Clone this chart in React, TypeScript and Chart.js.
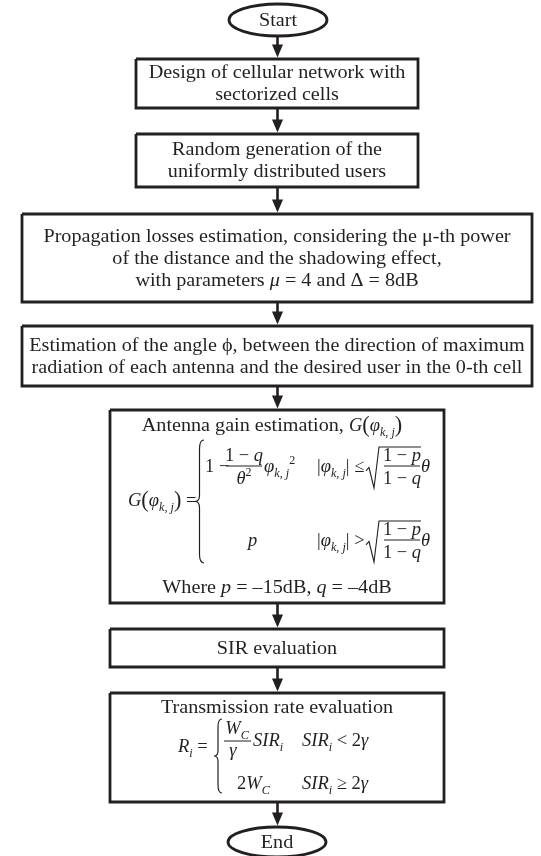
import React, { useEffect, useRef } from "react";
import { Chart, registerables } from "chart.js";
Chart.register(...registerables);

const W = 541;
const H = 856;
const INK = "#231f20";
const SERIF = '"Liberation Serif", "Times New Roman", serif';
const TEXT_SIZE = 18;
const TEXT_SX = 1.12; // horizontal stretch to mimic the book-face width
const MATH = 18.5;

// ---- flowchart content (top to bottom) ----
const stepKinds = ["terminal", "process", "process", "process", "process", "process", "process", "process", "terminal"];
const stepLines: string[][] = [
  ["Start"],
  ["Design of cellular network with", "sectorized cells"],
  ["Random generation of the", "uniformly distributed users"],
  [
    "Propagation losses estimation, considering the \u03bc-th power",
    "of the distance and the shadowing effect,",
    "with parameters |\u03bc| = 4 and \u0394 = 8dB",
  ],
  [
    "Estimation of the angle \u03d5, between the direction of maximum",
    "radiation of each antenna and the desired user in the 0-th cell",
  ],
  ["Antenna gain estimation,"],
  ["SIR evaluation"],
  ["Transmission rate evaluation"],
  ["End"],
];
const gainNote = "Where |p| = \u201315dB, |q| = \u20134dB";

// ---- layout of the steps (chart units) ----
const stepLeft = [229, 136, 136, 22, 22, 110, 110, 110, 228];
const stepRight = [327, 418, 418, 532, 532, 444, 444, 444, 326];
const stepTop = [4, 59, 134, 214, 326, 410, 629, 693, 827];
const stepBottom = [36, 108, 187, 302, 386, 603, 667, 802, 857];
const ARROW_X = 277.5;
const LINE_GAP = 22;

type Seg = { t: string; i?: boolean; s?: "sub" | "sup"; size?: number };

function fnt(size: number, italic?: boolean) {
  return `${italic ? "italic " : ""}${size}px ${SERIF}`;
}

function segSize(seg: Seg, size: number) {
  return seg.size ? seg.size : seg.s ? size * 0.66 : size;
}

function segsWidth(ctx: CanvasRenderingContext2D, segs: Seg[], size: number, sx = 1) {
  let w = 0;
  for (const s of segs) {
    ctx.font = fnt(segSize(s, size), s.i);
    w += ctx.measureText(s.t).width * sx;
  }
  return w;
}

function drawSegs(
  ctx: CanvasRenderingContext2D,
  segs: Seg[],
  x: number,
  y: number,
  size: number,
  align: "left" | "center" = "left",
  sx = 1
) {
  const total = segsWidth(ctx, segs, size, sx);
  let cx = align === "center" ? x - total / 2 : x;
  ctx.textBaseline = "alphabetic";
  ctx.textAlign = "left";
  for (const s of segs) {
    const sz = segSize(s, size);
    ctx.font = fnt(sz, s.i);
    const dy = s.s === "sub" ? size * 0.28 : s.s === "sup" ? -size * 0.42 : 0;
    ctx.save();
    ctx.translate(cx, y + dy);
    ctx.scale(sx, 1);
    ctx.fillText(s.t, 0, 0);
    ctx.restore();
    cx += ctx.measureText(s.t).width * sx;
  }
  return total;
}

// "a |b| c" -> italic parts between bars
function parseRich(line: string): Seg[] {
  return line
    .split("|")
    .map((p, k) => ({ t: p, i: k % 2 === 1 }))
    .filter((s) => s.t.length > 0);
}

function brace(ctx: CanvasRenderingContext2D, x: number, top: number, bot: number, w: number) {
  const mid = (top + bot) / 2;
  const xr = x + w;
  const xm = x + w * 0.5;
  ctx.beginPath();
  ctx.moveTo(xr, top);
  ctx.quadraticCurveTo(xm, top, xm, top + w);
  ctx.lineTo(xm, mid - w * 0.7);
  ctx.quadraticCurveTo(xm, mid, x, mid);
  ctx.quadraticCurveTo(xm, mid, xm, mid + w * 0.7);
  ctx.lineTo(xm, bot - w);
  ctx.quadraticCurveTo(xm, bot, xr, bot);
  ctx.stroke();
}

function sqrtSign(ctx: CanvasRenderingContext2D, x: number, top: number, bot: number, end: number) {
  const h = bot - top;
  ctx.beginPath();
  ctx.moveTo(x, bot - h * 0.42);
  ctx.lineTo(x + 3, bot - h * 0.5);
  ctx.lineTo(x + 8, bot);
  ctx.lineTo(x + 13, top);
  ctx.lineTo(end, top);
  ctx.stroke();
}

function hline(ctx: CanvasRenderingContext2D, x1: number, x2: number, y: number) {
  ctx.beginPath();
  ctx.moveTo(x1, y);
  ctx.lineTo(x2, y);
  ctx.stroke();
}

function phiArg(ctx: CanvasRenderingContext2D, x: number, by: number, size: number, parens: boolean) {
  let cx = x;
  if (parens) {
    ctx.font = fnt(size * 1.2);
    ctx.fillText("(", cx, by + 1);
    cx += ctx.measureText("(").width;
  }
  cx += drawSegs(ctx, [{ t: "\u03c6", i: true }, { t: "k, j", i: true, s: "sub" }], cx, by, size);
  if (parens) {
    ctx.font = fnt(size * 1.2);
    ctx.fillText(")", cx, by + 1);
    cx += ctx.measureText(")").width;
  }
  return cx - x;
}

const flowPlugin = {
  id: "flowText",
  beforeDraw(chart: any) {
    const ctx = chart.ctx as CanvasRenderingContext2D;
    ctx.save();
    ctx.fillStyle = "#ffffff";
    ctx.fillRect(0, 0, chart.width, chart.height);
    ctx.restore();
  },
  afterDatasetsDraw(chart: any) {
    const ctx = chart.ctx as CanvasRenderingContext2D;
    const X = (v: number) => chart.scales.x.getPixelForValue(v);
    const Y = (v: number) => chart.scales.y.getPixelForValue(v);
    ctx.save();
    ctx.fillStyle = INK;
    ctx.strokeStyle = INK;

    // terminals
    stepKinds.forEach((k, i) => {
      if (k !== "terminal") return;
      const cx = X((stepLeft[i] + stepRight[i]) / 2);
      const cy = Y((stepTop[i] + stepBottom[i]) / 2);
      ctx.lineWidth = 2.8;
      ctx.beginPath();
      ctx.ellipse(cx, cy, (X(stepRight[i]) - X(stepLeft[i])) / 2, (Y(stepBottom[i]) - Y(stepTop[i])) / 2, 0, 0, Math.PI * 2);
      ctx.stroke();
    });

    // arrowheads
    for (let i = 0; i < stepKinds.length - 1; i++) {
      const tipY = Y(stepTop[i + 1]) - 1.5;
      const ax = X(ARROW_X);
      ctx.beginPath();
      ctx.moveTo(ax, tipY);
      ctx.lineTo(ax - 5.5, tipY - 13);
      ctx.lineTo(ax + 5.5, tipY - 13);
      ctx.closePath();
      ctx.fill();
    }

    // generic text
    stepLines.forEach((lines, i) => {
      if (i === 5 || i === 7) return;
      const cx = X((stepLeft[i] + stepRight[i]) / 2);
      const cy = Y((stepTop[i] + stepBottom[i]) / 2);
      lines.forEach((ln, k) => {
        const y = cy + (k - (lines.length - 1) / 2) * LINE_GAP + TEXT_SIZE * 0.32;
        drawSegs(ctx, parseRich(ln), cx, y, TEXT_SIZE, "center", TEXT_SX);
      });
    });

    // ---- antenna gain block ----
    const c5 = X((stepLeft[5] + stepRight[5]) / 2);
    {
      const lead: Seg[] = [{ t: stepLines[5][0] + " " }];
      const wLead = segsWidth(ctx, lead, TEXT_SIZE, TEXT_SX);
      const wG = segsWidth(ctx, [{ t: "G", i: true }], MATH);
      const wArg = 50;
      const by = Y(431);
      let x = c5 - (wLead + wG + wArg) / 2;
      x += drawSegs(ctx, lead, x, by, TEXT_SIZE, "left", TEXT_SX);
      x += drawSegs(ctx, [{ t: "G", i: true }], x, by, MATH);
      phiArg(ctx, x, by, MATH, true);
    }
    {
      const by = Y(506);
      let x = X(128);
      x += drawSegs(ctx, [{ t: "G", i: true }], x, by, MATH);
      x += phiArg(ctx, x, by, MATH, true);
      drawSegs(ctx, [{ t: " =" }], x, by, MATH);
    }
    ctx.lineWidth = 1.2;
    brace(ctx, X(195), Y(440), Y(563), 9);
    // row 1
    {
      const base = Y(472);
      drawSegs(ctx, [{ t: "1 \u2212" }], X(205), base, MATH);
      drawSegs(ctx, [{ t: "1 \u2212 " }, { t: "q", i: true }], X(244), Y(461), MATH, "center");
      ctx.lineWidth = 1;
      hline(ctx, X(226), X(262), Y(466));
      drawSegs(ctx, [{ t: "\u03b8", i: true }, { t: "2", s: "sup", size: 12 }], X(244), Y(484), MATH, "center");
      drawSegs(ctx, [{ t: "\u03c6", i: true }, { t: "k, j", i: true, s: "sub" }, { t: "2", s: "sup", size: 12 }], X(264), base, MATH);
      drawSegs(ctx, [{ t: "|" }, { t: "\u03c6", i: true }, { t: "k, j", i: true, s: "sub" }, { t: "| \u2264" }], X(317), base, MATH);
      ctx.lineWidth = 1.1;
      sqrtSign(ctx, X(366), Y(447), Y(488), X(421));
      drawSegs(ctx, [{ t: "1 \u2212 " }, { t: "p", i: true }], X(402), Y(461), MATH, "center");
      hline(ctx, X(384), X(420), Y(466));
      drawSegs(ctx, [{ t: "1 \u2212 " }, { t: "q", i: true }], X(402), Y(484), MATH, "center");
      drawSegs(ctx, [{ t: "\u03b8", i: true }], X(421), base, MATH);
    }
    // row 2
    {
      const base = Y(546);
      drawSegs(ctx, [{ t: "p", i: true }], X(248), base, MATH);
      drawSegs(ctx, [{ t: "|" }, { t: "\u03c6", i: true }, { t: "k, j", i: true, s: "sub" }, { t: "| >" }], X(317), base, MATH);
      ctx.lineWidth = 1.1;
      sqrtSign(ctx, X(366), Y(521), Y(562), X(421));
      drawSegs(ctx, [{ t: "1 \u2212 " }, { t: "p", i: true }], X(402), Y(535), MATH, "center");
      hline(ctx, X(384), X(420), Y(540));
      drawSegs(ctx, [{ t: "1 \u2212 " }, { t: "q", i: true }], X(402), Y(558), MATH, "center");
      drawSegs(ctx, [{ t: "\u03b8", i: true }], X(421), base, MATH);
    }
    drawSegs(ctx, parseRich(gainNote), c5, Y(593), TEXT_SIZE, "center", TEXT_SX);

    // ---- transmission rate block ----
    const c7 = X((stepLeft[7] + stepRight[7]) / 2);
    drawSegs(ctx, [{ t: stepLines[7][0] }], c7, Y(713), TEXT_SIZE, "center", TEXT_SX);
    {
      drawSegs(ctx, [{ t: "R", i: true }, { t: "i", i: true, s: "sub" }, { t: " =" }], X(178), Y(752), MATH);
      ctx.lineWidth = 1.2;
      brace(ctx, X(214), Y(719), Y(793), 8);
      const r1 = Y(746);
      drawSegs(ctx, [{ t: "W", i: true }, { t: "C", i: true, s: "sub" }], X(237), Y(734), MATH, "center");
      ctx.lineWidth = 1;
      hline(ctx, X(224), X(251), Y(741));
      drawSegs(ctx, [{ t: "\u03b3", i: true }], X(233), Y(756), MATH, "center");
      drawSegs(ctx, [{ t: "SIR", i: true }, { t: "i", i: true, s: "sub" }], X(253), r1, MATH);
      drawSegs(ctx, [{ t: "SIR", i: true }, { t: "i", i: true, s: "sub" }, { t: " < 2" }, { t: "\u03b3", i: true }], X(302), r1, MATH);
      const r2 = Y(789);
      drawSegs(ctx, [{ t: "2" }, { t: "W", i: true }, { t: "C", i: true, s: "sub" }], X(237), r2, MATH);
      drawSegs(ctx, [{ t: "SIR", i: true }, { t: "i", i: true, s: "sub" }, { t: " \u2265 2" }, { t: "\u03b3", i: true }], X(302), r2, MATH);
    }
    ctx.restore();
  },
};

export default function App() {
  const ref = useRef<HTMLCanvasElement | null>(null);
  useEffect(() => {
    if (!ref.current) return;
    const datasets: any[] = [];
    stepKinds.forEach((k, i) => {
      if (k !== "process") return;
      const l = stepLeft[i], r = stepRight[i], t = stepTop[i], b = stepBottom[i];
      datasets.push({
        data: [
          { x: l, y: t },
          { x: r, y: t },
          { x: r, y: b },
          { x: l, y: b },
          { x: l, y: t },
        ],
        showLine: true,
        borderColor: INK,
        borderWidth: 2.8,
        borderJoinStyle: "miter",
        pointRadius: 0,
        tension: 0,
        clip: false,
      });
    });
    for (let i = 0; i < stepKinds.length - 1; i++) {
      datasets.push({
        data: [
          { x: ARROW_X, y: stepBottom[i] },
          { x: ARROW_X, y: stepTop[i + 1] - 10 },
        ],
        showLine: true,
        borderColor: INK,
        borderWidth: 2.6,
        pointRadius: 0,
        clip: false,
      });
    }
    const chart = new Chart(ref.current, {
      type: "scatter",
      data: { datasets },
      options: {
        animation: false,
        responsive: false,
        maintainAspectRatio: false,
        events: [],
        layout: { padding: 0 },
        plugins: { legend: { display: false }, tooltip: { enabled: false } },
        scales: {
          x: { type: "linear", min: 0, max: W, display: false },
          y: { type: "linear", min: 0, max: H, reverse: true, display: false },
        },
      },
      plugins: [flowPlugin as any],
    });
    return () => chart.destroy();
  }, []);
  return (
    <div style={{ position: "absolute", left: 0, top: 0, width: W, height: H, background: "#fff" }}>
      <canvas ref={ref} width={W} height={H} style={{ display: "block", width: W, height: H }} />
    </div>
  );
}
